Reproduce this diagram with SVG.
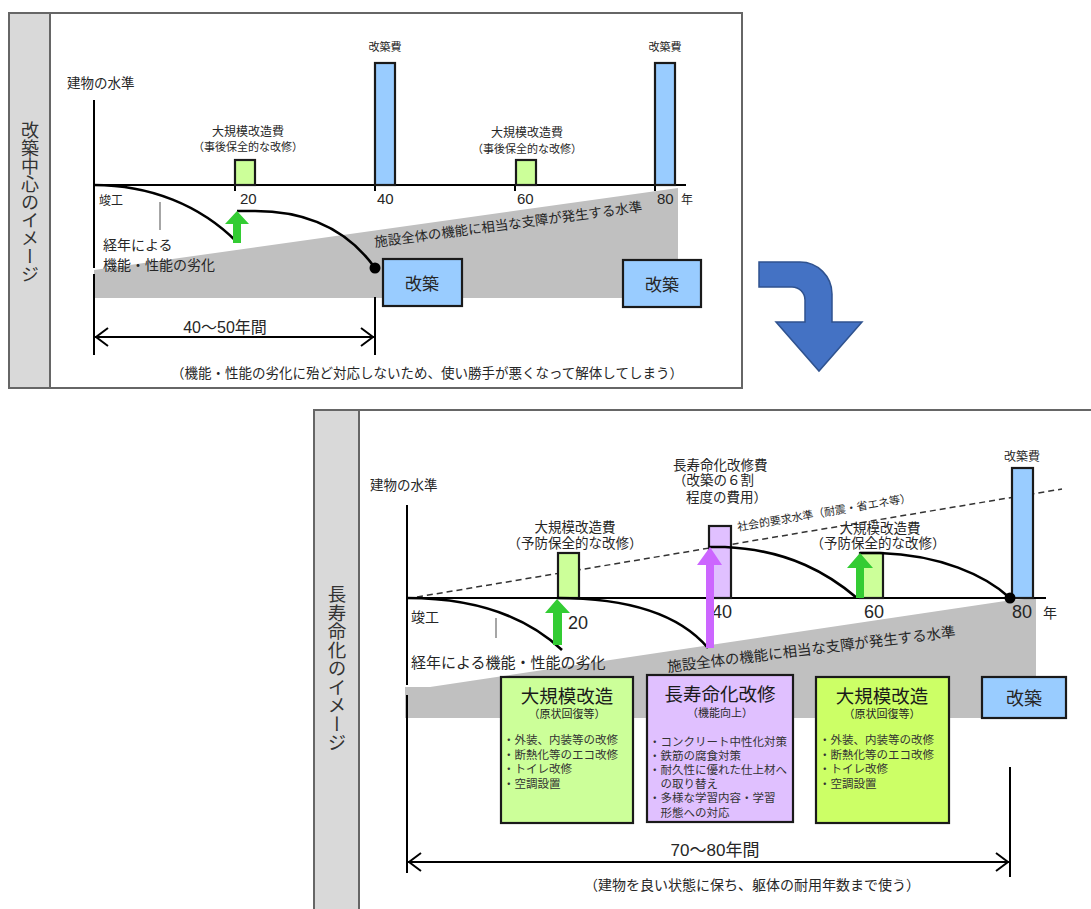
<svg xmlns="http://www.w3.org/2000/svg" width="1091" height="909" viewBox="0 0 1091 909">
<defs>
<style>
text{font-family:"Liberation Sans","Noto Sans CJK JP",sans-serif;fill:#262626}
.c{text-anchor:middle}
.vt{writing-mode:vertical-rl;text-anchor:middle;font-family:"Noto Sans CJK JP",sans-serif;font-size:18px;fill:#333}
.frame{fill:#fff;stroke:#666;stroke-width:2}
.strip{fill:#d9d9d9;stroke:#666;stroke-width:2}
.ax{stroke:#000;stroke-width:2;fill:none}
.crv{stroke:#000;stroke-width:2.6;fill:none}
.blue{fill:#99ccff;stroke:#1a1a1a;stroke-width:2.2}
.grn{fill:#ccff99;stroke:#1a1a1a;stroke-width:2.2}
.grn2{fill:#ccff66;stroke:#1a1a1a;stroke-width:2.2}
.pur{fill:#e0c0ff;stroke:#1a1a1a;stroke-width:2.2}
.gray{fill:#c0c0c0}
.lead{stroke:#888;stroke-width:1.5}
.dim{stroke:#000;stroke-width:2;fill:none}
.s11{font-size:11px}
.s12{font-size:12px}
.s13{font-size:13.5px}
.s14{font-size:14px}
.bl{font-size:11.5px;fill:#333}
.ttl{font-size:18.5px;text-anchor:middle;fill:#1a1a1a}
</style>
</defs>

<!-- TOP PANEL -->
<g id="panel-top">
<rect class="frame" x="9" y="13" width="733" height="375"/>
<rect class="strip" x="9" y="13" width="41" height="375"/>
<text class="vt" x="30" y="202">改築中心のイメージ</text>
</g>
<g id="top-degradation">
<polygon class="gray" points="94,270 678,188 678,298 94,298"/>
<text class="s13" transform="translate(375,247) rotate(-7.6)">施設全体の機能に相当な支障が発生する水準</text>
</g>
<g id="top-axes">
<line class="ax" x1="94" y1="100" x2="94" y2="268"/>
<line class="ax" x1="94" y1="274" x2="94" y2="355"/>
<line class="ax" x1="94" y1="185" x2="686" y2="185"/>
<line class="ax" x1="235" y1="185" x2="235" y2="191"/>
<line class="ax" x1="515" y1="185" x2="515" y2="191"/>
<line class="ax" x1="375" y1="185" x2="375" y2="191"/>
<line class="ax" x1="655" y1="185" x2="655" y2="191"/>
<text class="s13" x="67" y="88">建物の水準</text>
<text class="s12" x="99" y="205">竣工</text>
<text x="240" y="204" style="font-size:15px">20</text>
<text x="377" y="204" style="font-size:15px">40</text>
<text x="517" y="204" style="font-size:15px">60</text>
<text x="657" y="204" style="font-size:15px">80</text>
<text class="s12" x="681" y="204">年</text>
</g>
<g id="top-bar20">
<rect class="grn" x="235" y="160" width="20" height="25"/>
<text class="s12 c" x="248" y="136">大規模改造費</text>
<text class="s11 c" x="248" y="151">（事後保全的な改修）</text>
</g>
<g id="top-bar40">
<rect class="blue" x="375" y="63" width="20" height="122"/>
<text class="s11 c" x="385" y="51">改築費</text>
</g>
<g id="top-bar60">
<rect class="grn" x="516" y="160" width="20" height="25"/>
<text class="s12 c" x="527" y="137">大規模改造費</text>
<text class="s11 c" x="527" y="153">（事後保全的な改修）</text>
</g>
<g id="top-bar80">
<rect class="blue" x="655" y="63" width="20" height="122"/>
<text class="s11 c" x="665" y="51">改築費</text>
</g>
<g id="top-kaichiku1">
<rect class="blue" x="383" y="259" width="79" height="47"/>
<text class="c" x="422" y="290" style="font-size:17px">改築</text>
</g>
<g id="top-kaichiku2">
<rect class="blue" x="623" y="260" width="78" height="47"/>
<text class="c" x="662" y="291" style="font-size:17px">改築</text>
</g>
<g id="top-labels">
<line class="lead" x1="160" y1="202" x2="160" y2="230"/>
<text class="s14" x="103" y="250">経年による</text>
<text class="s14" x="103" y="270">機能・性能の劣化</text>
<text class="c" x="225" y="333" style="font-size:16px">40〜50年間</text>
<line class="ax" x1="375" y1="297" x2="375" y2="355"/>
<text class="c" x="427" y="378" style="font-size:13.5px">（機能・性能の劣化に殆ど対応しないため、使い勝手が悪くなって解体してしまう）</text>
</g>

<!-- BIG ARROW -->
<g id="transition-arrow">
<path d="M759,262 L800,262 A32,32 0 0 1 832,294 L832,322 L862,322 L819,371 L776,322 L805,322 L805,300 A13,13 0 0 0 792,287 L759,287 Z" fill="#4472c4" stroke="#2f528f" stroke-width="1.5"/>
</g>

<!-- BOTTOM PANEL -->
<g id="panel-bottom">
<rect class="frame" x="314" y="410" width="800" height="520"/>
<rect class="strip" x="314" y="410" width="45" height="520"/>
<text class="vt" x="337" y="668" style="font-size:18.5px">長寿命化のイメージ</text>
</g>
<g id="bottom-degradation">
<polygon class="gray" points="405,687 430,687 1012,600 1036,598 1036,718 405,718"/>
<text style="font-size:14.5px" transform="translate(668,672) rotate(-7)">施設全体の機能に相当な支障が発生する水準</text>
</g>
<g id="bottom-axes">
<line class="ax" x1="407" y1="505" x2="407" y2="685"/>
<line class="ax" x1="407" y1="695" x2="407" y2="873"/>
<line class="ax" x1="407" y1="598" x2="1046" y2="598"/>
<line x1="417" y1="597" x2="1062" y2="489" stroke="#333" stroke-width="1.5" stroke-dasharray="6,4"/>
<text class="s11" transform="translate(738,531) rotate(-9.6)">社会的要求水準（耐震・省エネ等）</text>
<text class="s13" x="370" y="490">建物の水準</text>
<text class="s14" x="411" y="622">竣工</text>
<text x="568" y="629" style="font-size:18px">20</text>
<text x="712" y="618" style="font-size:18px">40</text>
<text x="864" y="618" style="font-size:18px">60</text>
<text x="1012" y="618" style="font-size:18px">80</text>
<text class="s14" x="1043" y="618">年</text>
</g>
<g id="bottom-bar20">
<rect class="grn" x="558" y="553" width="21" height="45"/>
<text class="s13 c" x="575" y="532">大規模改造費</text>
<text class="s13 c" x="575" y="548">（予防保全的な改修）</text>
</g>
<g id="bottom-bar40">
<rect class="pur" x="709" y="526" width="22" height="72"/>
<text class="s13" x="673" y="470">長寿命化改修費</text>
<text class="s13" x="673" y="485">（改築の６割</text>
<text class="s13" x="686" y="502">程度の費用）</text>
</g>
<g id="bottom-bar60">
<rect class="grn" x="860" y="553" width="23" height="45"/>
<text class="s13 c" x="880" y="533">大規模改造費</text>
<text class="s13 c" x="878" y="548">（予防保全的な改修）</text>
</g>
<g id="bottom-bar80">
<rect class="blue" x="1012" y="468" width="21" height="130"/>
<text class="s12 c" x="1022" y="461">改築費</text>
</g>
<g id="box-daikibo1">
<rect class="grn" x="501" y="677" width="132" height="146"/>
<text class="ttl" x="567" y="703">大規模改造</text>
<text class="s11 c" x="567" y="718">（原状回復等）</text>
<text class="bl" x="503" y="744">・外装、内装等の改修</text>
<text class="bl" x="503" y="759">・断熱化等のエコ改修</text>
<text class="bl" x="503" y="773">・トイレ改修</text>
<text class="bl" x="503" y="788">・空調設置</text>
</g>
<g id="box-choju">
<rect class="pur" x="647" y="675" width="146" height="147"/>
<text class="ttl" x="720" y="701">長寿命化改修</text>
<text class="s11 c" x="720" y="717">（機能向上）</text>
<text class="bl" x="649" y="746">・コンクリート中性化対策</text>
<text class="bl" x="649" y="760">・鉄筋の腐食対策</text>
<text class="bl" x="649" y="774">・耐久性に優れた仕上材へ</text>
<text class="bl" x="649" y="788">　の取り替え</text>
<text class="bl" x="649" y="802">・多様な学習内容・学習</text>
<text class="bl" x="649" y="817">　形態への対応</text>
</g>
<g id="box-daikibo2">
<rect class="grn2" x="816" y="677" width="133" height="146"/>
<text class="ttl" x="882" y="703">大規模改造</text>
<text class="s11 c" x="882" y="718">（原状回復等）</text>
<text class="bl" x="819" y="744">・外装、内装等の改修</text>
<text class="bl" x="819" y="759">・断熱化等のエコ改修</text>
<text class="bl" x="819" y="773">・トイレ改修</text>
<text class="bl" x="819" y="788">・空調設置</text>
</g>
<g id="box-kaichiku">
<rect class="blue" x="982" y="677" width="84" height="41"/>
<text class="c" x="1024" y="705" style="font-size:18px">改築</text>
</g>
<g id="bottom-labels">
<line class="lead" x1="496" y1="618" x2="496" y2="638"/>
<text style="font-size:15px" x="411" y="668">経年による機能・性能の劣化</text>
<text class="c" x="715" y="856" style="font-size:17px">70〜80年間</text>
<line class="ax" x1="1010" y1="767" x2="1010" y2="877"/>
<text class="c" x="752" y="890" style="font-size:14px">（建物を良い状態に保ち、躯体の耐用年数まで使う）</text>
</g>

<!-- CONNECTORS -->
<g id="connectors">
<path class="crv" d="M94,185 C150,185 200,205 237,242"/>
<path class="crv" d="M237,211 L255,211 C320,211 355,240 375,268"/>
<circle cx="375" cy="268" r="5.5" fill="#000"/>
<path d="M233,243 L241,243 L241,224 L249,224 L237,211 L225,224 L233,224 Z" fill="#33cc33"/>
<path class="dim" d="M94,337 L375,337 M108,328 L96,337 L108,346 M361,328 L373,337 L361,346"/>

<path class="crv" d="M407,598 C480,598 530,620 562,650"/>
<path class="crv" d="M557,598 C630,598 680,615 708,648"/>
<path class="crv" d="M709,547 L725,547 C790,550 830,575 857,598"/>
<path class="crv" d="M860,553 L880,553 C940,555 985,575 1010,598"/>
<circle cx="1010" cy="598" r="5.5" fill="#000"/>
<path d="M553,645 L562,645 L562,613 L570,613 L557,599 L545,613 L553,613 Z" fill="#33cc33"/>
<path d="M706,648 L714,648 L714,565 L722,565 L710,547 L697,565 L706,565 Z" fill="#cc66ff"/>
<path d="M856,598 L864,598 L864,568 L873,568 L860,553 L847,568 L856,568 Z" fill="#33cc33"/>
<path class="dim" d="M407,862 L1010,862 M421,853 L409,862 L421,871 M996,853 L1008,862 L996,871"/>
</g>
</svg>
